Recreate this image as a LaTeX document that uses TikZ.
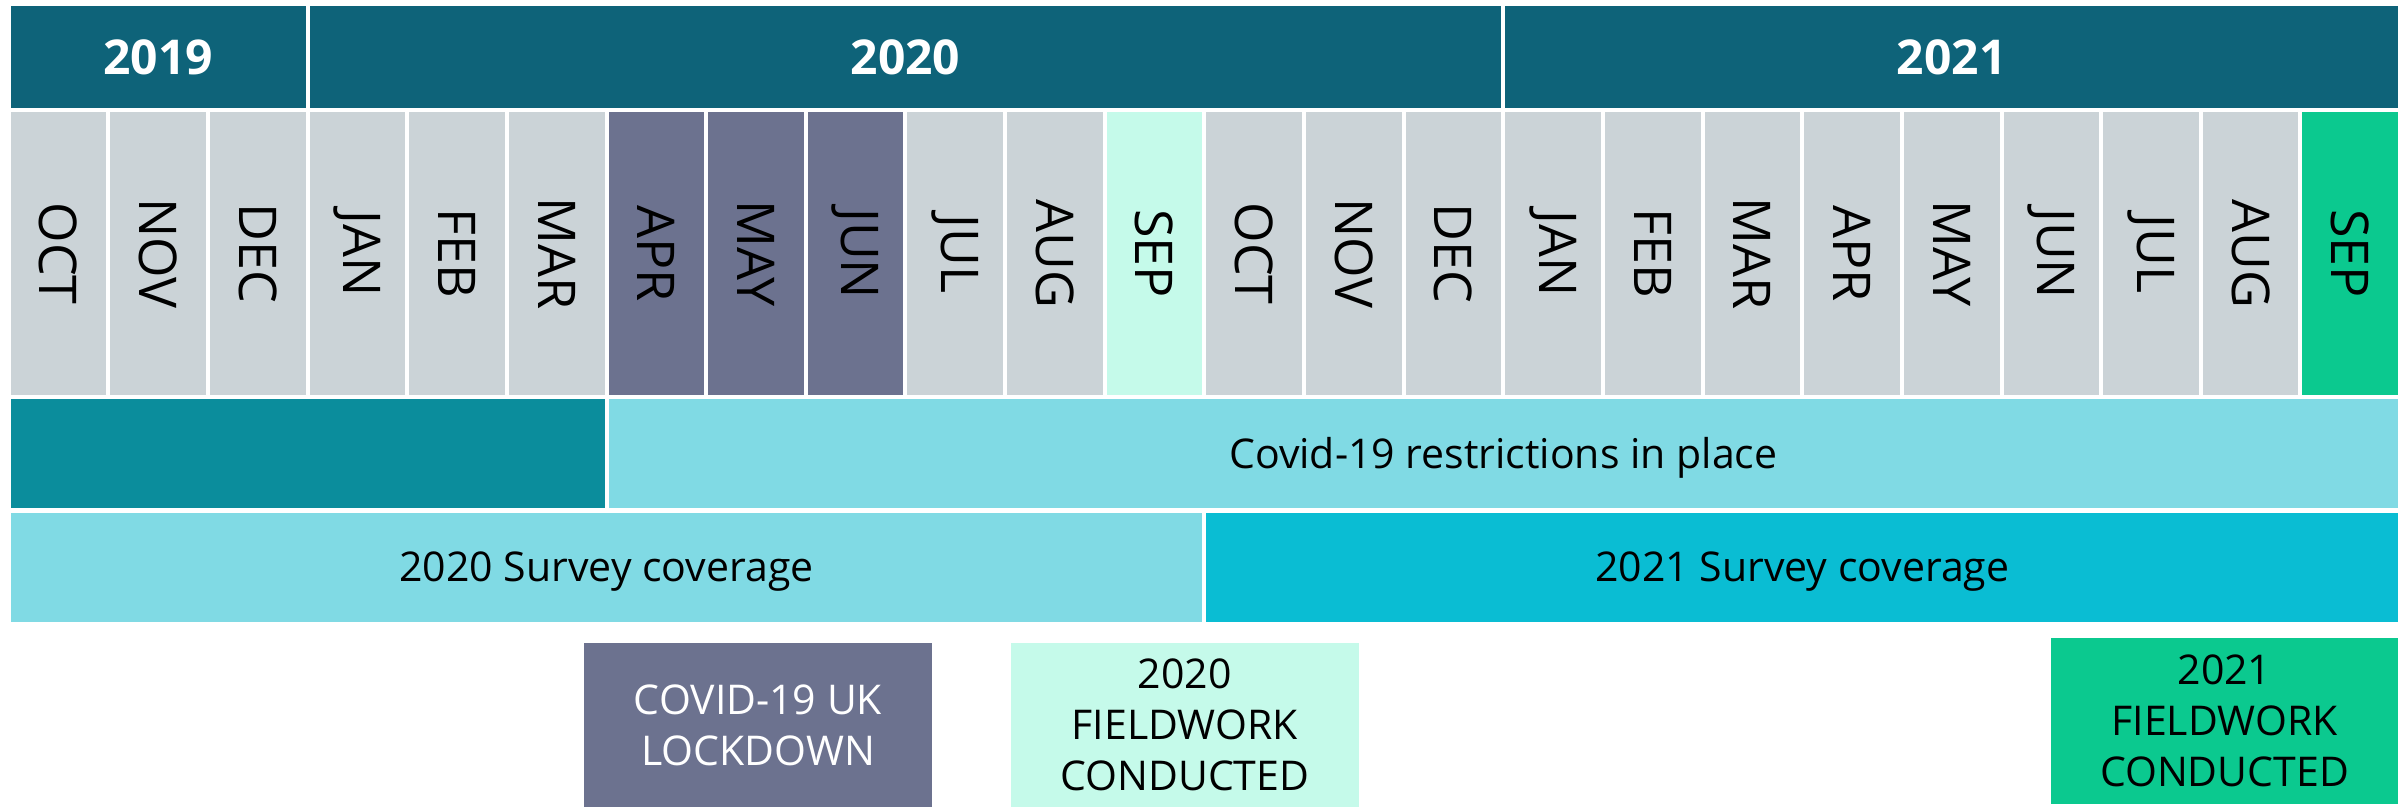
\documentclass[tikz,border=0pt]{standalone}
\usepackage{fontspec}
\setmainfont{Open Sans}
\definecolor{hdr}{RGB}{14,99,121}
\definecolor{mgray}{RGB}{203,211,215}
\definecolor{lock}{RGB}{108,114,143}
\definecolor{mint}{RGB}{197,250,234}
\definecolor{fgreen}{RGB}{11,201,143}
\definecolor{dteal}{RGB}{11,141,156}
\definecolor{lcyan}{RGB}{128,218,228}
\definecolor{mcyan}{RGB}{10,189,211}
\begin{document}
\begin{tikzpicture}[x=1pt,y=-1pt,
  box/.style={inner sep=0pt, outer sep=0pt, anchor=north west, draw=none},
  yeartxt/.style={font=\fontsize{48}{56}\selectfont\bfseries, text=white},
  monthtxt/.style={font=\fontsize{52}{60}\selectfont, rotate=-90, inner sep=0pt},
  bodytxt/.style={font=\fontsize{41}{51}\selectfont, align=center},
  linetxt/.style={font=\fontsize{41}{51}\selectfont, text height=29.3pt, text depth=0pt},
]
\useasboundingbox (0,0) rectangle (2407,807);
\fill[white] (0,0) rectangle (2407,807);
% year header
\node[box, fill=hdr, minimum width=294.9pt, minimum height=101.7pt, yeartxt] (y19) at (10.7,6) {2019};
\node[box, fill=hdr, minimum width=1191.7pt, minimum height=101.7pt, yeartxt] (y20) at (309.6,6) {2020};
\node[box, fill=hdr, minimum width=892.8pt, minimum height=101.7pt, yeartxt] (y21) at (1505.3,6) {2021};
% months
\foreach \mname [count=\i from 0] in {OCT,NOV,DEC,JAN,FEB,MAR,APR,MAY,JUN,JUL,AUG,SEP,OCT,NOV,DEC,JAN,FEB,MAR,APR,MAY,JUN,JUL,AUG,SEP}{
  \pgfmathsetmacro\mx{10.7+\i*99.64}
  \ifnum\i=6 \def\mcol{lock}\else
  \ifnum\i=7 \def\mcol{lock}\else
  \ifnum\i=8 \def\mcol{lock}\else
  \ifnum\i=11 \def\mcol{mint}\else
  \ifnum\i=23 \def\mcol{fgreen}\else
  \def\mcol{mgray}\fi\fi\fi\fi\fi
  \node[box, fill=\mcol, minimum width=95.64pt, minimum height=282.7pt] (m\i) at (\mx,112.3) {};
  \node[monthtxt] (ml\i) at (m\i.center) {\mname};
}
% covid restrictions row
\node[box, fill=dteal, minimum width=593.8pt, minimum height=109pt] (pre) at (10.7,399.3) {};
\node[box, fill=lcyan, minimum width=1789.5pt, minimum height=109pt, linetxt] (covid) at (608.5,399.3) {Covid-19 restrictions in place};
% survey coverage row
\node[box, fill=lcyan, minimum width=1191.7pt, minimum height=109pt, linetxt] (s20) at (10.7,512.7) {2020 Survey coverage};
\node[box, fill=mcyan, minimum width=1191.7pt, minimum height=109pt, linetxt] (s21) at (1206.4,512.7) {2021 Survey coverage};
% bottom legend boxes
\node[box, fill=lock, minimum width=348pt, minimum height=164pt, bodytxt, text=white] (lockdown) at (584,643) {COVID-19 UK\\LOCKDOWN};
\node[box, fill=mint, minimum width=348.3pt, minimum height=164pt, bodytxt] (fw20) at (1010.7,643) {2020\\FIELDWORK\\CONDUCTED};
\node[box, fill=fgreen, minimum width=347pt, minimum height=166pt, bodytxt] (fw21) at (2051,638) {2021\\FIELDWORK\\CONDUCTED};
\end{tikzpicture}
\end{document}
